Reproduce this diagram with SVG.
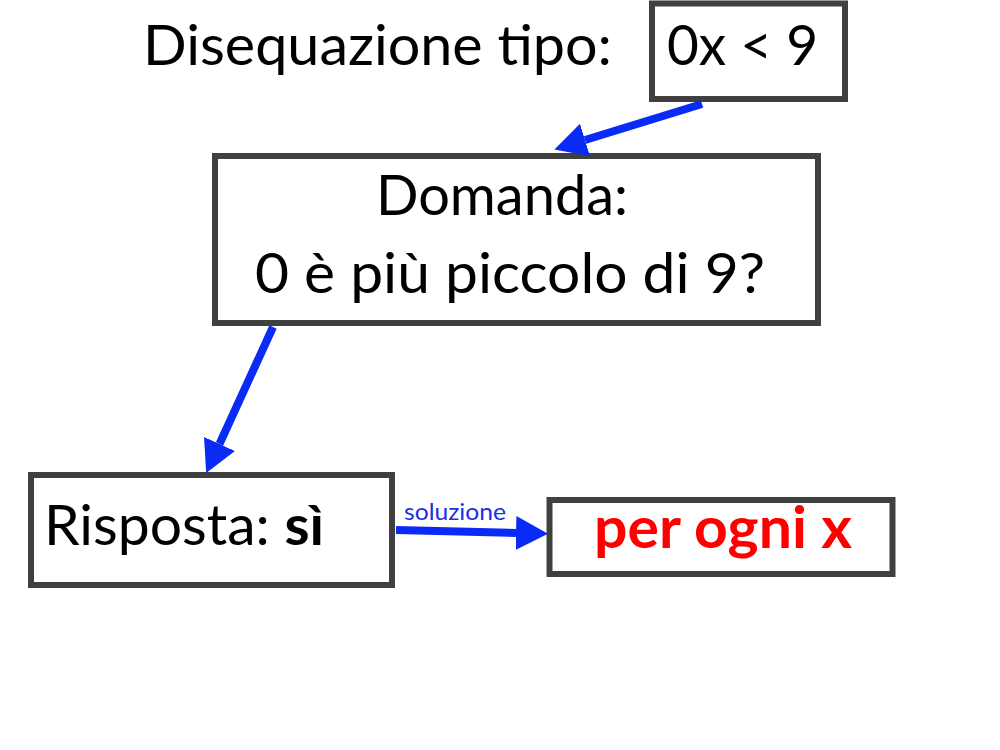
<svg xmlns="http://www.w3.org/2000/svg" width="1000" height="750" viewBox="0 0 1000 750">
<style>
.box{fill:#fff;stroke:#404040;stroke-width:6}
.t{font-family:Lato,"Open Sans",sans-serif;fill:#000}
.con{stroke:#0a2af5;stroke-width:8;fill:none}
</style>
<defs>
<marker id="ah" viewBox="0 0 32 34" markerWidth="32" markerHeight="34" refX="0" refY="17" orient="auto" markerUnits="userSpaceOnUse">
<path d="M0,0 L32,17 L0,34 z" fill="#0a2af5"/>
</marker>
</defs>
<rect width="1000" height="750" fill="#fff"/>
<g id="title">
<text class="t" x="143" y="65" font-size="56" textLength="469" lengthAdjust="spacingAndGlyphs">Disequazione tipo:</text>
</g>
<g id="n1">
<rect class="box" x="652" y="3.5" width="193" height="95.5"/>
<text class="t" x="667" y="65" font-size="56" textLength="151" lengthAdjust="spacingAndGlyphs">0x &lt; 9</text>
</g>
<g id="n2">
<rect class="box" x="215" y="156" width="603" height="167"/>
<text class="t" x="376" y="215" font-size="56" textLength="252" lengthAdjust="spacingAndGlyphs">Domanda:</text>
<text class="t" x="255" y="293" font-size="56" textLength="510" lengthAdjust="spacingAndGlyphs">0 è più piccolo di 9?</text>
</g>
<g id="n3">
<rect class="box" x="31" y="475" width="361" height="110"/>
<text class="t" x="44" y="545" font-size="56" textLength="280" lengthAdjust="spacingAndGlyphs">Risposta: <tspan font-weight="bold">sì</tspan></text>
</g>
<g id="n4">
<rect class="box" x="549.5" y="500" width="343" height="74"/>
<text class="t" x="594" y="548" font-size="57" font-weight="bold" style="fill:#ff0000" textLength="258" lengthAdjust="spacingAndGlyphs">per ogni x</text>
</g>
<g id="connectors">
<line class="con" x1="702" y1="104" x2="585" y2="140" marker-end="url(#ah)"/>
<line class="con" x1="273" y1="327" x2="219.5" y2="444" marker-end="url(#ah)"/>
<line class="con" x1="396" y1="530" x2="516" y2="533" marker-end="url(#ah)"/>
<text x="404" y="520" font-family="Lato,'Open Sans',sans-serif" font-size="23" fill="#1a30e8" textLength="102" lengthAdjust="spacingAndGlyphs">soluzione</text>
</g>
</svg>
